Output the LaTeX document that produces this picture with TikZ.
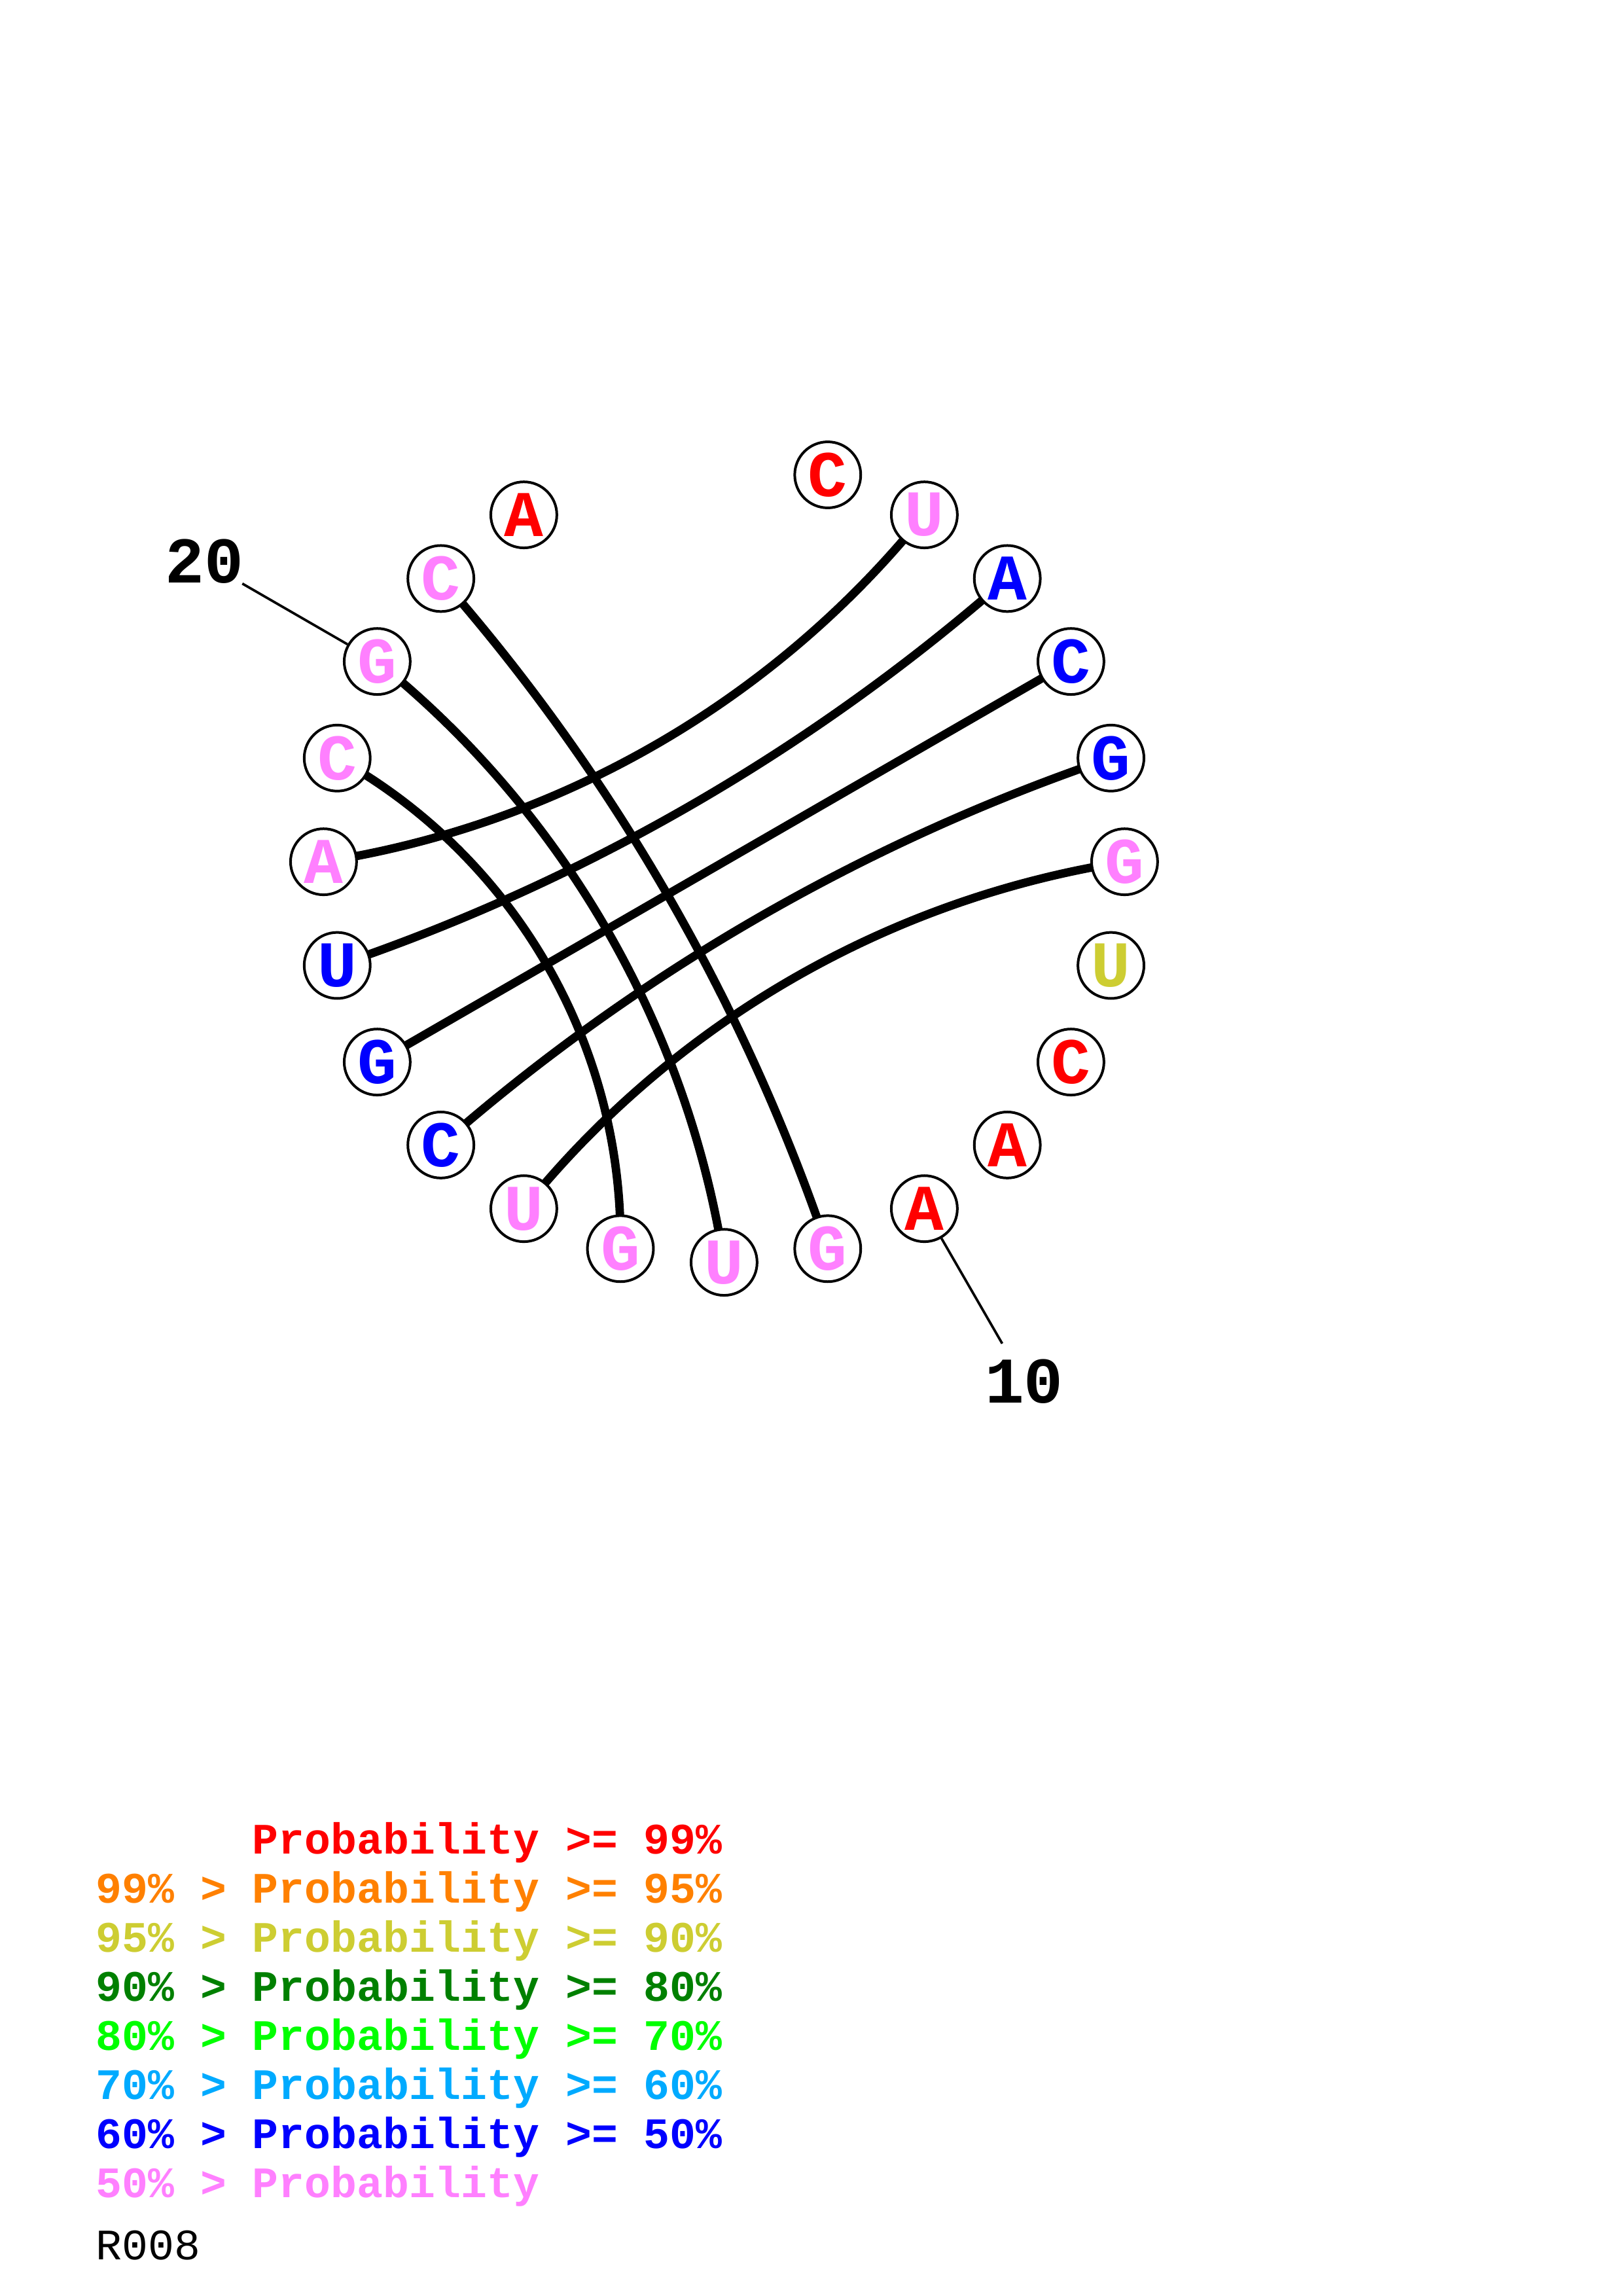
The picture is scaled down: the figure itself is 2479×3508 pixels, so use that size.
\documentclass[tikz,border=0pt]{standalone}
\usepackage{fontspec}
\setmonofont{Liberation Mono}
\usetikzlibrary{backgrounds}
\definecolor{cred}{RGB}{255,0,0}
\definecolor{corange}{RGB}{255,128,0}
\definecolor{cyellow}{RGB}{205,205,50}
\definecolor{cdgreen}{RGB}{0,128,0}
\definecolor{cgreen}{RGB}{0,255,0}
\definecolor{clblue}{RGB}{0,170,255}
\definecolor{cblue}{RGB}{0,0,255}
\definecolor{cpink}{RGB}{255,128,255}
\begin{document}
\begin{tikzpicture}[x=0.24088pt, y=0.24088pt,
  nt/.style={circle, draw=black, line width=0.96pt, fill=white, minimum size=24.3pt, inner sep=0pt,
    font=\ttfamily\bfseries\fontsize{24}{28}\selectfont},
  pair/.style={line width=3.1pt, draw=black},
  lbl/.style={font=\ttfamily\bfseries\fontsize{24}{28}\selectfont, inner sep=0pt},
  tickline/.style={line width=0.9pt, draw=black},
  leg/.style={font=\ttfamily\bfseries\fontsize{16}{19}\selectfont, anchor=base west, inner sep=0pt}]
\useasboundingbox (0,0) rectangle (2479,3508);
\coordinate (c) at (1106.4,2191.3);
\foreach \i/\l/\col [evaluate=\i as \ang using 75-15*(\i-1)] in
  {1/C/cred, 2/U/cpink, 3/A/cblue, 4/C/cblue, 5/G/cblue, 6/G/cpink, 7/U/cyellow,
   8/C/cred, 9/A/cred, 10/A/cred, 11/G/cpink, 12/U/cpink, 13/G/cpink, 14/U/cpink,
   15/C/cblue, 16/G/cblue, 17/U/cblue, 18/A/cpink, 19/C/cpink, 20/G/cpink,
   21/C/cpink, 22/A/cred}
  \node[nt, text=\col] (n\i) at ([shift={(\ang:612)}]c) {\l};

\begin{scope}[on background layer]
\draw[pair] (n18.center) to[out=8.84, in=231.16, looseness=0.881] (n2.center);
\draw[pair] (n17.center) to[out=18.72, in=221.28, looseness=0.8597] (n3.center);
\draw[pair] (n16.center) -- (n4.center);
\draw[pair] (n5.center) to[out=198.72, in=41.28, looseness=0.8597] (n15.center);
\draw[pair] (n6.center) to[out=188.84, in=51.16, looseness=0.881] (n14.center);
\draw[pair] (n11.center) to[out=108.72, in=311.28, looseness=0.8597] (n21.center);
\draw[pair] (n12.center) to[out=98.84, in=321.16, looseness=0.881] (n20.center);
\draw[pair] (n13.center) to[out=89.06, in=330.94, looseness=0.9166] (n19.center);
\end{scope}

\node[lbl] (l10) at ([shift={(-60:917)}]c) {10};
\node[lbl] (l20) at ([shift={(150:917)}]c) {20};
\coordinate (e10) at ([shift={(-60:850)}]c);
\coordinate (e20) at ([shift={(150:850)}]c);
\draw[tickline] (n10) -- (e10);
\draw[tickline] (n20) -- (e20);

\node[leg, text=cred] (g1) at (146,675) {~~~~~~Probability~>=~99\%};
\node[leg, text=corange] (g2) at (146,600) {99\%~>~Probability~>=~95\%};
\node[leg, text=cyellow] (g3) at (146,525) {95\%~>~Probability~>=~90\%};
\node[leg, text=cdgreen] (g4) at (146,450) {90\%~>~Probability~>=~80\%};
\node[leg, text=cgreen] (g5) at (146,375) {80\%~>~Probability~>=~70\%};
\node[leg, text=clblue] (g6) at (146,300) {70\%~>~Probability~>=~60\%};
\node[leg, text=cblue] (g7) at (146,225) {60\%~>~Probability~>=~50\%};
\node[leg, text=cpink] (g8) at (146,150) {50\%~>~Probability};
\node[leg, font=\ttfamily\fontsize{16}{19}\selectfont, text=black] (rid) at (146,55) {R008};
\end{tikzpicture}
\end{document}
